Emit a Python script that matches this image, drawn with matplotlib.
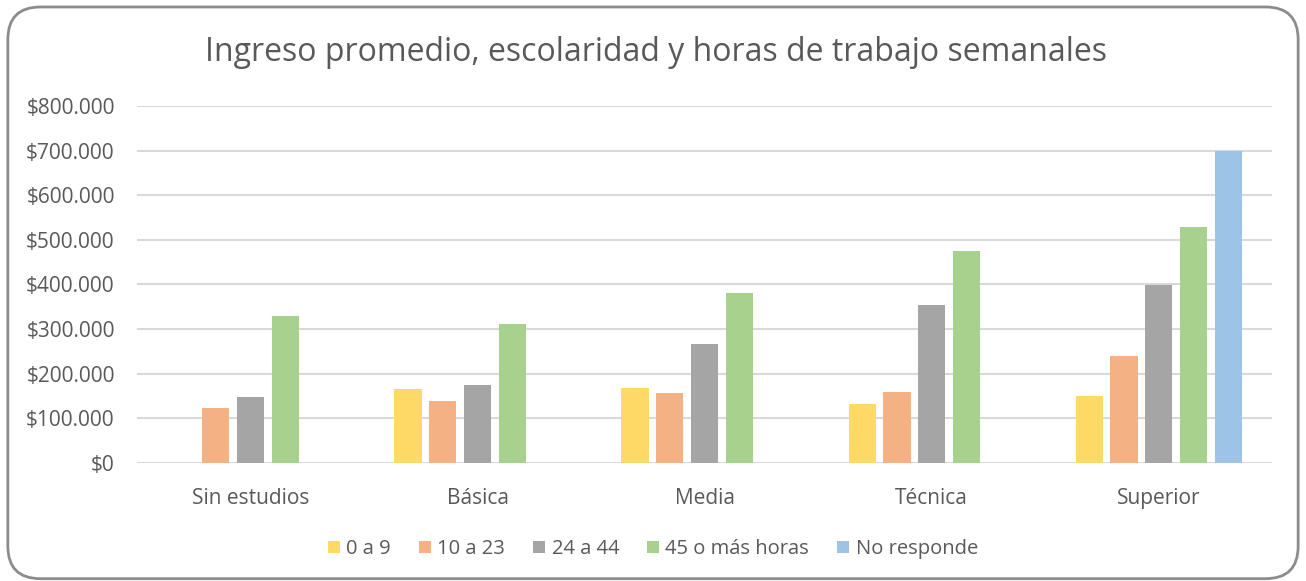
import numpy as np
import matplotlib.pyplot as plt
from matplotlib.patches import FancyBboxPatch
from matplotlib.ticker import FuncFormatter

categories = ['Sin estudios', 'Básica', 'Media', 'Técnica', 'Superior']
series_names = ['0 a 9', '10 a 23', '24 a 44', '45 o más horas', 'No responde']
h_0_9 = [0, 166000, 168000, 132000, 150000]
h_10_23 = [123000, 139000, 157000, 159000, 240000]
h_24_44 = [148000, 175000, 267000, 354000, 399000]
h_45_mas = [330000, 312000, 381000, 475000, 529000]
no_responde = [0, 0, 0, 0, 700000]
colors = ['#FFD966', '#F4B183', '#A5A5A5', '#A9D18E', '#9DC3E6']

series = [h_0_9, h_10_23, h_24_44, h_45_mas, no_responde]
text_col = '#595959'
plt.rcParams['font.family'] = ['Open Sans', 'DejaVu Sans']

fig = plt.figure(figsize=(13.06, 5.81), dpi=100)
ax = fig.add_axes([0.1049, 0.2031, 0.8692, 0.6145])

x = np.arange(len(categories))
step = 0.153
width = 0.12
for i, (vals, name, c) in enumerate(zip(series, series_names, colors)):
    ax.bar(x + (i - 2) * step, vals, width, color=c, label=name, zorder=3)

ax.set_xlim(-0.5, len(categories) - 0.5)
ax.set_ylim(0, 800000)
ax.set_yticks(np.arange(0, 800001, 100000))
ax.yaxis.set_major_formatter(FuncFormatter(lambda v, p: '$' + f'{int(v):,}'.replace(',', '.')))
ax.grid(axis='y', color='#D9D9D9', linewidth=1.5, zorder=0)
for s in ax.spines.values():
    s.set_visible(False)
ax.tick_params(axis='both', length=0, colors=text_col, labelsize=15)
ax.tick_params(axis='y', pad=16)
ax.tick_params(axis='x', pad=18)
ax.set_xticks(x)
ax.set_xticklabels(categories)

fig.text(0.502, 0.91, 'Ingreso promedio, escolaridad y horas de trabajo semanales',
         ha='center', va='center', fontsize=23, color=text_col)

fig.legend(loc='center', bbox_to_anchor=(0.5, 0.055), ncol=5, frameon=False,
           fontsize=14.5, labelcolor=text_col, handlelength=0.6, handleheight=0.6,
           handletextpad=0.3, columnspacing=1.4)

border = FancyBboxPatch((0.006, 0.004), 0.988, 0.984, boxstyle='round,pad=0,rounding_size=0.025',
                        transform=fig.transFigure, fill=False, edgecolor='#8C8C8C', linewidth=2,
                        mutation_aspect=1306 / 581)
fig.patches.append(border)

fig.savefig('out.png', dpi=100)
